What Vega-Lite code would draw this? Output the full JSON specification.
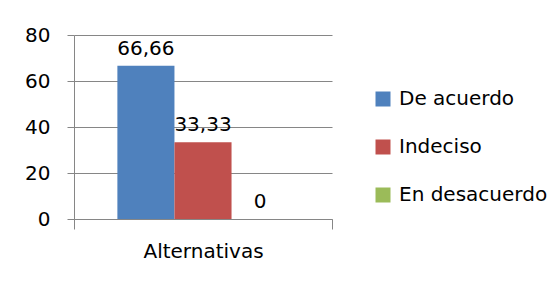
{
  "$schema": "https://vega.github.io/schema/vega-lite/v6.json",
  "autosize": "none",
  "width": 258,
  "height": 184,
  "padding": {"left": 74, "top": 35, "right": 227, "bottom": 65},
  "background": "white",
  "config": {
    "view": {"stroke": null},
    "font": "DejaVu Sans",
    "axis": {"labelFont": "DejaVu Sans", "labelColor": "black", "domainColor": "#868686", "tickColor": "#868686", "gridColor": "#868686", "labelFontSize": 20}
  },
  "data": {
    "values": [
      {"grupo": "Alternativas", "serie": "De acuerdo", "valor": 66.66, "etiqueta": "66,66"},
      {"grupo": "Alternativas", "serie": "Indeciso", "valor": 33.33, "etiqueta": "33,33"},
      {"grupo": "Alternativas", "serie": "En desacuerdo", "valor": 0, "etiqueta": "0"}
    ]
  },
  "encoding": {
    "x": {"field": "grupo", "type": "nominal", "scale": {"paddingInner": 0, "paddingOuter": 0},
      "axis": {"title": null, "labelAngle": 0, "tickBand": "extent", "tickSize": 10, "labelPadding": 12, "grid": false}},
    "xOffset": {"field": "serie", "type": "nominal", "sort": ["De acuerdo", "Indeciso", "En desacuerdo"], "scale": {"paddingInner": 0, "paddingOuter": 0.76}},
    "y": {"field": "valor", "type": "quantitative", "scale": {"domain": [0, 80]},
      "axis": {"title": null, "values": [0, 20, 40, 60, 80], "tickSize": 7, "labelPadding": 17, "grid": true}}
  },
  "layer": [
    {
      "mark": {"type": "bar"},
      "encoding": {
        "color": {"field": "serie", "type": "nominal", "sort": ["De acuerdo", "Indeciso", "En desacuerdo"],
          "scale": {"domain": ["De acuerdo", "Indeciso", "En desacuerdo"], "range": ["#4F81BD", "#C0504D", "#9BBB59"]},
          "legend": {"title": null, "orient": "none", "legendX": 299, "legendY": 54, "symbolType": "square", "symbolSize": 225, "symbolStrokeWidth": 0, "labelFontSize": 20, "labelFont": "DejaVu Sans", "labelColor": "black", "rowPadding": 28, "labelOffset": 6}}
      }
    },
    {
      "mark": {"type": "text", "baseline": "bottom", "dy": -7, "fontSize": 20, "font": "DejaVu Sans", "color": "black"},
      "encoding": {"text": {"field": "etiqueta"}}
    }
  ]
}
